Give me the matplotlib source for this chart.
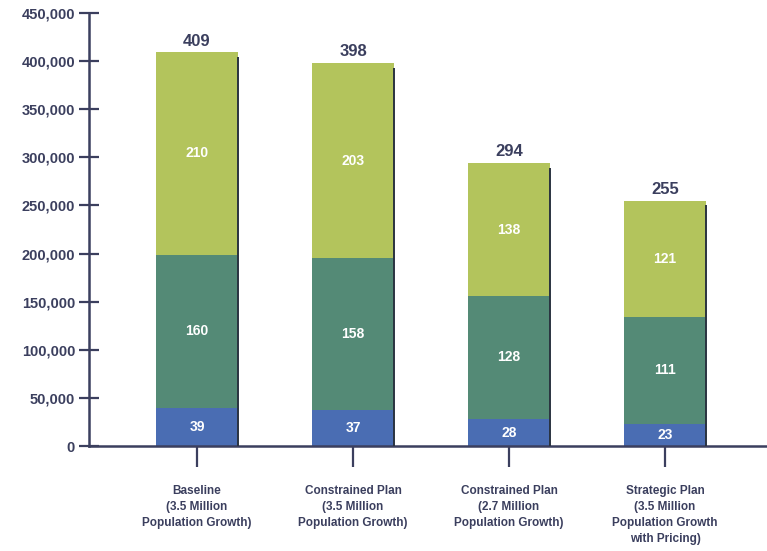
import matplotlib
matplotlib.use("Agg")
import matplotlib.pyplot as plt
import numpy as np

categories = [
    "Baseline\n(3.5 Million\nPopulation Growth)",
    "Constrained Plan\n(3.5 Million\nPopulation Growth)",
    "Constrained Plan\n(2.7 Million\nPopulation Growth)",
    "Strategic Plan\n(3.5 Million\nPopulation Growth\nwith Pricing)",
]
bottom_seg = [39, 37, 28, 23]      # thousands
middle_seg = [160, 158, 128, 111]
top_seg = [210, 203, 138, 121]
totals = [409, 398, 294, 255]

y_ticks = [0, 50000, 100000, 150000, 200000, 250000, 300000, 350000, 400000, 450000]

navy = "#3b3f5e"
c_blue = "#4a6db3"
c_teal = "#548a76"
c_olive = "#b3c45c"

plt.rcParams["font.family"] = ["Liberation Sans", "DejaVu Sans"]

fig = plt.figure(figsize=(7.67, 5.51), dpi=100)
ax = fig.add_axes([89 / 767, 1 - 446 / 551, 1 - 89 / 767, (446 - 13) / 551])

x = np.arange(len(categories))
w = 0.526
b = np.array(bottom_seg) * 1000
m = np.array(middle_seg) * 1000
t = np.array(top_seg) * 1000

ax.bar(x, b, w, color=c_blue, zorder=2)
ax.bar(x, m, w, bottom=b, color=c_teal, zorder=2)
ax.bar(x, t, w, bottom=b + m, color=c_olive, zorder=2)

# dark edge along the right side of each column
for xi, tot in zip(x, np.array(totals) * 1000):
    ax.plot([xi + w / 2, xi + w / 2], [0, tot - 5000], color="#2a3340",
            lw=1.4, zorder=3, solid_capstyle="butt")

for xi, bv, mv, tv, tot in zip(x, b, m, t, totals):
    ax.text(xi, bv / 2, f"{bv // 1000:.0f}", ha="center", va="center",
            color="white", fontsize=10, fontweight="bold", zorder=4)
    ax.text(xi, bv + mv / 2, f"{mv // 1000:.0f}", ha="center", va="center",
            color="white", fontsize=10, fontweight="bold", zorder=4)
    ax.text(xi, bv + mv + tv / 2, f"{tv // 1000:.0f}", ha="center", va="center",
            color="white", fontsize=10, fontweight="bold", zorder=4)
    ax.text(xi, tot * 1000 + 4000, f"{tot}", ha="center", va="bottom",
            color=navy, fontsize=12, fontweight="bold", zorder=4)

ax.set_xlim((89 - 197) / 156, (767 - 197) / 156)
ax.set_ylim(0, 450000)

ax.set_yticks(y_ticks)
ax.set_yticklabels([f"{v:,}" for v in y_ticks], color=navy,
                   fontsize=10.5, fontweight="bold")
ax.tick_params(axis="y", direction="inout", length=14, width=1.6,
               color=navy, pad=3)

ax.set_xticks(x)
ax.set_xticklabels(categories, color=navy, fontsize=8.5, fontweight="bold",
                   linespacing=1.45, va="top")
ax.tick_params(axis="x", direction="out", length=15, width=1.6,
               color=navy, pad=13)

for side in ["top", "right"]:
    ax.spines[side].set_visible(False)
for side in ["left", "bottom"]:
    ax.spines[side].set_color(navy)
    ax.spines[side].set_linewidth(1.8)

fig.savefig("out.png", dpi=100)
